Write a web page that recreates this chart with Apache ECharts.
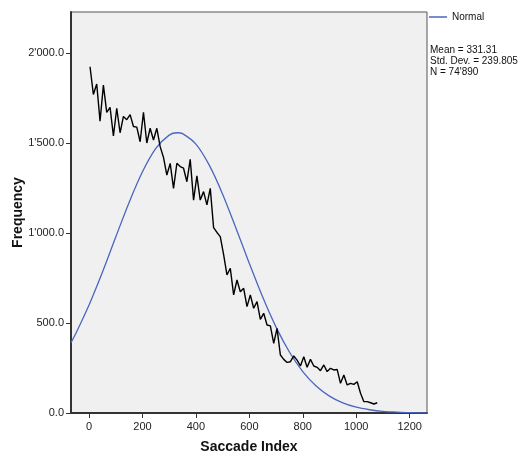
<!DOCTYPE html>
<html>
<head>
<meta charset="utf-8">
<script src="https://cdn.jsdelivr.net/npm/echarts@6/dist/echarts.min.js"></script>
<style>
  html, body { margin: 0; padding: 0; background: #fff; }
  #chart { width: 523px; height: 454px; }
</style>
</head>
<body>
<div id="chart"></div>
<script>
// frequency polygon, one value per bin (bin centres start at 3.75, width 12.5)
const binStart = 3.75
const binWidth = 12.5
const frequency = [
  1924, 1770, 1828, 1622, 1822, 1670, 1698, 1539, 1693, 1557,
  1648, 1630, 1658, 1592, 1588, 1507, 1670, 1500, 1582, 1517,
  1582, 1480, 1420, 1322, 1387, 1248, 1387, 1369, 1360, 1285,
  1409, 1183, 1317, 1183, 1230, 1156, 1248, 1030, 1003, 980,
  880, 767, 804, 656, 739, 674, 693, 591, 656, 582,
  619, 520, 554, 489, 484, 387, 470, 322, 298, 281,
  285, 317, 294, 261, 313, 254, 298, 261, 254, 235,
  267, 230, 248, 239, 242, 165, 211, 156, 165, 159,
  174, 110, 63, 63, 57, 50, 57
]

// normal curve
const normalX = [-67.5, -50, 0, 50, 100, 150, 200, 250, 300, 331, 350, 400, 450, 500, 550, 600, 650, 700, 750, 800, 850, 900, 950, 1000, 1050, 1100, 1150, 1200, 1265]
const normalY = [391, 440, 600, 782, 978, 1170, 1340, 1470, 1544, 1557, 1552, 1494, 1377, 1216, 1027, 831, 644, 477, 339, 230, 150, 94, 56, 32, 18, 9, 5, 2, 1]

const xTicks = [0, 200, 400, 600, 800, 1000, 1200]
const yTicks = [0, 500, 1000, 1500, 2000]
const yTickLabels = ['0.0', '500.0', "1'000.0", "1'500.0", "2'000.0"]
const statsLines = ['Mean = 331.31', 'Std. Dev. = 239.805', "N = 74'890"]

const chart = echarts.init(document.getElementById('chart'))

const font = 'Liberation Sans, Arial, sans-serif'

chart.setOption({
  animation: false,
  textStyle: { fontFamily: font },
  grid: {
    left: 71,
    top: 12,
    right: 96,
    bottom: 41,
    outerBoundsMode: 'none',
    show: true,
    backgroundColor: '#f0f0f0',
    borderColor: '#555',
    borderWidth: 1
  },
  legend: {
    data: [{ name: 'Normal', icon: 'rect' }],
    left: 429,
    top: 12,
    padding: 0,
    itemWidth: 18,
    itemHeight: 1.5,
    textStyle: { fontSize: 10, color: '#111', fontFamily: font }
  },
  graphic: statsLines.map((t, i) => ({
    type: 'text',
    left: 430,
    top: 45 + i * 11,
    style: { text: t, fontSize: 10, fill: '#111', fontFamily: font }
  })),
  xAxis: {
    type: 'value',
    min: -67.5,
    max: 1265,
    name: 'Saccade Index',
    nameLocation: 'middle',
    nameGap: 27,
    nameMoveOverlap: false,
    nameTextStyle: { fontSize: 14, fontWeight: 'bold', color: '#111' },
    splitLine: { show: false },
    axisLine: { onZero: false, lineStyle: { color: '#333', width: 2 } },
    axisTick: { customValues: xTicks, length: 5, lineStyle: { color: '#333' } },
    axisLabel: {
      customValues: xTicks,
      fontSize: 11,
      color: '#222',
      margin: 8,
      formatter: v => String(v)
    }
  },
  yAxis: {
    type: 'value',
    min: 0,
    max: 2228,
    name: 'Frequency',
    nameLocation: 'middle',
    nameGap: 46,
    nameMoveOverlap: false,
    nameRotate: 90,
    nameTextStyle: { fontSize: 14, fontWeight: 'bold', color: '#111' },
    splitLine: { show: false },
    axisLine: { show: true, onZero: false, lineStyle: { color: '#333', width: 2 } },
    axisTick: { show: true, customValues: yTicks, length: 5, lineStyle: { color: '#333' } },
    axisLabel: {
      customValues: yTicks,
      fontSize: 11,
      color: '#222',
      margin: 7,
      formatter: v => yTickLabels[yTicks.indexOf(v)]
    }
  },
  series: [
    {
      name: 'Normal',
      type: 'line',
      smooth: 0.3,
      symbol: 'none',
      data: normalX.map((x, i) => [x, normalY[i]]),
      lineStyle: { color: '#4a66be', width: 1.3 },
      itemStyle: { color: '#4a66be' }
    },
    {
      name: 'Frequency',
      type: 'line',
      symbol: 'none',
      data: frequency.map((v, i) => [binStart + i * binWidth, v]),
      lineStyle: { color: '#000', width: 1.4 },
      itemStyle: { color: '#000' }
    }
  ]
})
</script>
</body>
</html>
